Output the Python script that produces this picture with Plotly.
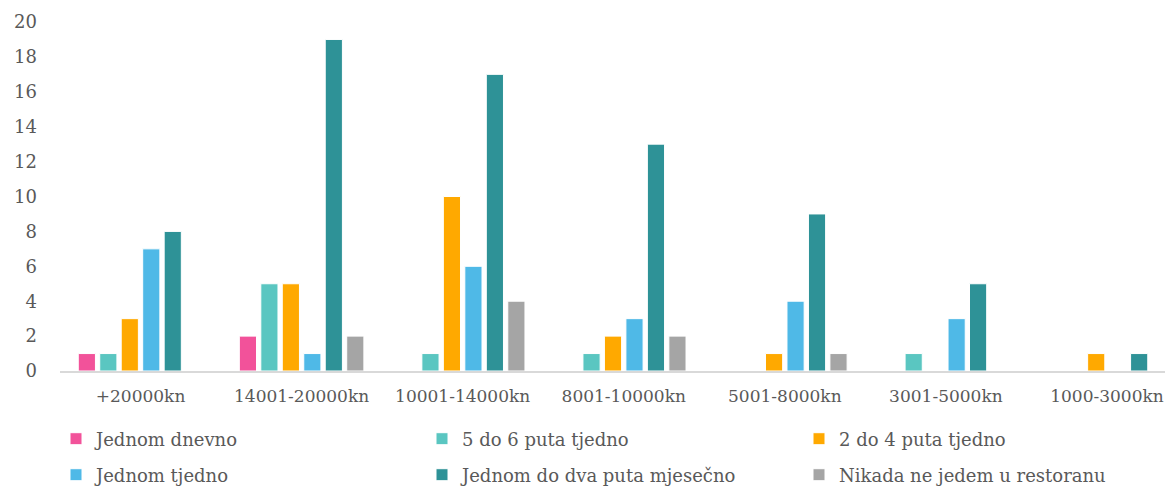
import plotly.graph_objects as go

categories = ["+20000kn", "14001-20000kn", "10001-14000kn", "8001-10000kn",
              "5001-8000kn", "3001-5000kn", "1000-3000kn"]
series_names = ["Jednom dnevno", "5 do 6 puta tjedno", "2 do 4 puta tjedno",
                "Jednom tjedno", "Jednom do dva puta mjesečno", "Nikada ne jedem u restoranu"]
jednom_dnevno = [1, 2, 0, 0, 0, 0, 0]
pet_do_sest = [1, 5, 1, 1, 0, 1, 0]
dva_do_cetiri = [3, 5, 10, 2, 1, 0, 1]
jednom_tjedno = [7, 1, 6, 3, 4, 3, 0]
jednom_do_dva = [8, 19, 17, 13, 9, 5, 1]
nikada = [0, 2, 4, 2, 1, 0, 0]
y_ticks = [0, 2, 4, 6, 8, 10, 12, 14, 16, 18, 20]

values = [jednom_dnevno, pet_do_sest, dva_do_cetiri, jednom_tjedno, jednom_do_dva, nikada]
colors = ["#F2529A", "#5AC6C1", "#FFA900", "#4FB9E7", "#2E9297", "#A5A5A5"]

# page has an 8px body margin; figure is sized to fill the rest of the window
W, H = 1165, 479
font_family = "DejaVu Serif"

legend_cols = [48, 414, 791]
legend_rows = [431, 467]

fig = go.Figure()
layout_legends = {}
for i, (name, vals, col) in enumerate(zip(series_names, values, colors)):
    lg = "legend" if i == 0 else f"legend{i + 1}"
    fig.add_trace(go.Bar(x=categories, y=vals, name=name, legend=lg,
                         marker=dict(color=col, line=dict(color="white", width=1))))
    layout_legends[lg] = dict(
        orientation="h", xref="container", x=legend_cols[i % 3] / W, xanchor="left",
        yref="container", y=1 - legend_rows[i // 3] / H, yanchor="middle",
        itemwidth=30, font=dict(size=18, family=font_family, color="#595959"),
        bgcolor="rgba(0,0,0,0)")

# the original chart is cut off at its right edge
x_range = [-0.5, 6.41]

fig.update_layout(
    width=W, height=H,
    barmode="group", bargap=0.2, bargroupgap=0.2,
    plot_bgcolor="white", paper_bgcolor="white",
    margin=dict(l=52, r=0, t=14, b=116, autoexpand=False),
    font=dict(family=font_family, size=18, color="#595959"),
    xaxis=dict(range=x_range, showline=True, linecolor="#D9D9D9", linewidth=2, ticks="",
               showgrid=False, ticklabelstandoff=9, automargin=False,
               tickfont=dict(size=17)),
    yaxis=dict(range=[0, 20], tickvals=y_ticks, showgrid=False, zeroline=False,
               showline=False, ticklabelstandoff=22, automargin=False),
    showlegend=True,
    **layout_legends,
)
fig.write_html("out.html")
